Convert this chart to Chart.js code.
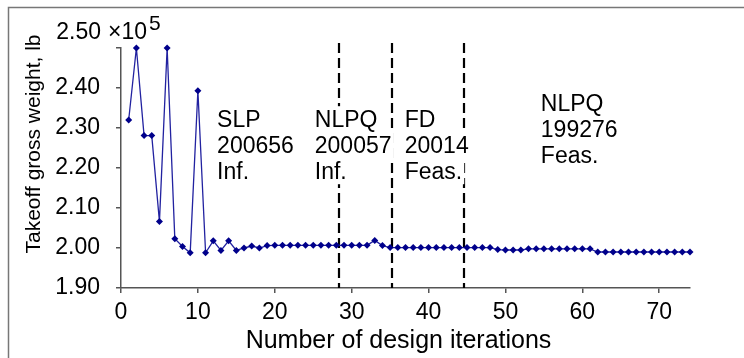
<!DOCTYPE html>
<html>
<head>
<meta charset="utf-8">
<script src="https://cdn.jsdelivr.net/npm/chart.js@4"></script>
<style>
  html, body { margin: 0; padding: 0; background: #fff; }
  #wrap { width: 744px; height: 358px; }
</style>
</head>
<body>
<div id="wrap"><canvas id="chart" width="744" height="358"></canvas></div>
<script>
// takeoff gross weight (x 1e5 lb) per design iteration
const iterations = [];
for (let i = 1; i <= 74; i++) iterations.push(i);
const weights = [
  2.320, 2.500, 2.281, 2.281, 2.066, 2.500, 2.023, 2.004, 1.988, 2.393,
  1.988, 2.018, 1.994, 2.018, 1.994, 2.000, 2.005, 2.000, 2.006, 2.0066,
  2.0066, 2.0066, 2.0066, 2.0066, 2.0066, 2.0066, 2.0066, 2.0066, 2.0066, 2.0066,
  2.0066, 2.0066, 2.019, 2.006, 2.001, 2.001, 2.001, 2.001, 2.001, 2.001,
  2.001, 2.001, 2.001, 2.001, 2.001, 2.001, 2.001, 2.001, 1.996, 1.995,
  1.995, 1.995, 1.998, 1.998, 1.998, 1.998, 1.998, 1.998, 1.998, 1.998,
  1.998, 1.990, 1.990, 1.990, 1.990, 1.990, 1.990, 1.990, 1.990, 1.990,
  1.990, 1.990, 1.990, 1.990
];

const xTicks = [0, 10, 20, 30, 40, 50, 60, 70];
const yTicks = [1.9, 2.0, 2.1, 2.2, 2.3, 2.4, 2.5];

// optimizer switch points (iteration)
const phaseBreaks = [28.4, 35.3, 44.6];

// phase labels: method, objective, feasibility
const phaseLabels = [
  { x: 12.5, y: 2.302, lines: ['SLP', '200656', 'Inf.'] },
  { x: 25.2, y: 2.302, lines: ['NLPQ', '200057', 'Inf.'] },
  { x: 36.9, y: 2.302, lines: ['FD', '20014', 'Feas.'] },
  { x: 54.6, y: 2.342, lines: ['NLPQ', '199276', 'Feas.'] }
];

const FONT = '"Liberation Sans", Arial, Helvetica, sans-serif';
const AXIS_GREY = '#555';

const extras = {
  id: 'extras',
  beforeDatasetsDraw(chart) {
    const { ctx, chartArea, scales } = chart;
    ctx.save();
    ctx.strokeStyle = '#000';
    ctx.lineWidth = 2.2;
    ctx.setLineDash([10, 5]);
    phaseBreaks.forEach(v => {
      const px = Math.round(scales.x.getPixelForValue(v));
      ctx.beginPath();
      ctx.moveTo(px, chartArea.top - 5);
      ctx.lineTo(px, chartArea.bottom);
      ctx.stroke();
    });
    ctx.restore();
  },
  afterDatasetsDraw(chart) {
    const { ctx, chartArea, scales } = chart;
    ctx.save();

    // phase labels, each line on a white box
    ctx.font = '23px ' + FONT;
    ctx.textBaseline = 'alphabetic';
    ctx.textAlign = 'left';
    phaseLabels.forEach(lab => {
      const px = scales.x.getPixelForValue(lab.x);
      const py = scales.y.getPixelForValue(lab.y);
      lab.lines.forEach((t, i) => {
        const w = ctx.measureText(t).width;
        const by = py + i * 26;
        ctx.fillStyle = '#fff';
        ctx.fillRect(px - 2, by - 21, w + 4, 26);
        ctx.fillStyle = '#000';
        ctx.fillText(t, px, by);
      });
    });

    // top tick label with exponent
    const yTop = scales.y.getPixelForValue(2.5);
    const lx = chartArea.left - 20;
    const ly = yTop - 9;
    ctx.font = '23px ' + FONT;
    ctx.textAlign = 'right';
    ctx.fillStyle = '#000';
    ctx.fillText('2.50', lx, ly);
    ctx.textAlign = 'left';
    const mult = '\u00d710';
    ctx.fillText(mult, lx + 7, ly);
    const mw = ctx.measureText(mult).width;
    ctx.font = '21px ' + FONT;
    ctx.fillText('5', lx + 7 + mw + 2, ly - 9);

    // axis titles
    ctx.font = '21px ' + FONT;
    ctx.textAlign = 'center';
    ctx.textBaseline = 'middle';
    ctx.translate(34, 144);
    ctx.rotate(-Math.PI / 2);
    ctx.fillText('Takeoff gross weight, lb', 0, 0);
    ctx.setTransform(1, 0, 0, 1, 0, 0);

    ctx.font = '25px ' + FONT;
    ctx.fillText('Number of design iterations', (chartArea.left + chartArea.right) / 2 - 7, 341);

    // frame of the figure (top and left edges)
    ctx.strokeStyle = '#777';
    ctx.lineWidth = 1.5;
    ctx.beginPath();
    ctx.moveTo(8.5, chart.height);
    ctx.lineTo(8.5, 7.5);
    ctx.lineTo(chart.width, 7.5);
    ctx.stroke();
    ctx.restore();
  }
};

new Chart(document.getElementById('chart'), {
  type: 'line',
  data: {
    datasets: [{
      data: iterations.map((it, i) => ({ x: it, y: weights[i] })),
      borderColor: '#2222a0',
      borderWidth: 1.3,
      pointStyle: 'rectRot',
      pointRadius: 3.5,
      pointBackgroundColor: '#00008b',
      pointBorderColor: '#00008b',
      pointBorderWidth: 0,
      tension: 0,
      clip: 6
    }]
  },
  options: {
    responsive: false,
    animation: false,
    events: [],
    layout: { padding: { top: 48, right: 54, left: 0, bottom: 0 } },
    plugins: {
      legend: { display: false },
      tooltip: { enabled: false },
      title: { display: false }
    },
    scales: {
      x: {
        type: 'linear',
        min: 0,
        max: 74,
        afterBuildTicks: s => { s.ticks = xTicks.map(v => ({ value: v })); },
        afterFit: s => { s.height = 70; },
        ticks: {
          color: '#000',
          font: { family: FONT, size: 23 },
          padding: 6,
          maxRotation: 0,
          callback: v => String(v)
        },
        grid: {
          display: true,
          drawOnChartArea: false,
          drawTicks: true,
          tickLength: 5,
          color: AXIS_GREY,
          lineWidth: 1.5
        },
        border: { display: true, color: AXIS_GREY, width: 1.5 }
      },
      y: {
        type: 'linear',
        min: 1.9,
        max: 2.5,
        afterBuildTicks: s => { s.ticks = yTicks.map(v => ({ value: v })); },
        afterFit: s => { s.width = 121; },
        ticks: {
          color: '#000',
          font: { family: FONT, size: 23 },
          padding: 16,
          callback: v => (Math.abs(v - 2.5) < 1e-9 ? '' : v.toFixed(2))
        },
        grid: {
          display: true,
          drawOnChartArea: false,
          drawTicks: true,
          tickLength: 5,
          color: AXIS_GREY,
          lineWidth: 1.5
        },
        border: { display: true, color: AXIS_GREY, width: 1.5 }
      }
    }
  },
  plugins: [extras]
});
</script>
</body>
</html>
